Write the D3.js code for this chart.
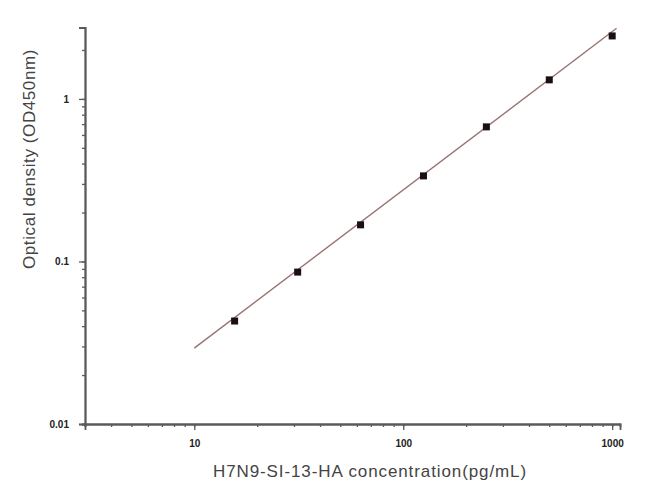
<!DOCTYPE html>
<html><head><meta charset="utf-8">
<script src="https://cdn.jsdelivr.net/npm/d3@7"></script>
<style>body{margin:0;background:#fff}</style>
</head><body>
<svg id="c" width="650" height="494"></svg>
<script>
const concentrations = [15.6, 31.25, 62.5, 125, 250, 500, 1000];
const odValues = [0.043, 0.086, 0.168, 0.336, 0.673, 1.31, 2.44];
const fitX = [10, 1050];
const fitY = [0.0293, 2.72];
const xTickLabels = [10, 100, 1000];
const yTickLabels = [0.01, 0.1, 1];

const svg = d3.select("#c");
const x = d3.scaleLog().domain([3, 1090]).range([85, 620]);
const y = d3.scaleLog().domain([0.01, 2.75]).range([424, 27.5]);
const axisColor = "#5a5a5a";

// minor ticks
const xMinor = [];
for (let d = 1; d <= 1000; d *= 10) for (let m = 1; m < 10; m++) { const v = d * m; if (v >= 3 && v <= 1090) xMinor.push(v); }
const yMinor = [];
for (let d = 0.01; d <= 1.001; d *= 10) for (let m = 1; m < 10; m++) { const v = d * m; if (v >= 0.0099 && v <= 2.75) yMinor.push(v); }

const xa = svg.append("g").attr("transform", `translate(0,${y(0.01)})`)
  .call(d3.axisBottom(x).tickValues(xMinor).tickSize(3).tickFormat(""));
const xaMaj = svg.append("g").attr("transform", `translate(0,${y(0.01)})`)
  .call(d3.axisBottom(x).tickValues(xTickLabels).tickSize(6).tickPadding(10).tickFormat(d3.format("d")));
const ya = svg.append("g").attr("transform", `translate(${x(3)},0)`)
  .call(d3.axisLeft(y).tickValues(yMinor).tickSize(3).tickFormat(""));
const yaMaj = svg.append("g").attr("transform", `translate(${x(3)},0)`)
  .call(d3.axisLeft(y).tickValues(yTickLabels).tickSize(6).tickPadding(10).tickFormat(d => String(d)));

[xa, xaMaj, ya, yaMaj].forEach(g => {
  g.select(".domain").attr("stroke", axisColor).attr("stroke-width", 1.8);
  g.selectAll(".tick line").attr("stroke", axisColor).attr("stroke-width", 1.3);
  g.selectAll(".tick text").attr("fill", "#222").attr("font-family", "Liberation Sans, Arial, sans-serif")
    .attr("font-size", 10).attr("font-weight", "bold");
});

// fit line
svg.append("line")
  .attr("x1", x(fitX[0])).attr("y1", y(fitY[0]))
  .attr("x2", x(fitX[1])).attr("y2", y(fitY[1]))
  .attr("stroke", "#9a7272").attr("stroke-width", 1.4);

// points
svg.selectAll("rect.pt").data(concentrations).enter().append("rect")
  .attr("class", "pt")
  .attr("x", d => x(d) - 3.5).attr("y", (d, i) => y(odValues[i]) - 3.5)
  .attr("width", 7).attr("height", 7).attr("fill", "#1a1012");

// titles
svg.append("text").attr("x", 370).attr("y", 477).attr("text-anchor", "middle")
  .attr("font-family", "Liberation Sans, Arial, sans-serif").attr("font-size", 17)
  .attr("letter-spacing", 0.9).attr("fill", "#444")
  .text("H7N9-SI-13-HA concentration(pg/mL)");
svg.append("text").attr("transform", "translate(35,159) rotate(-90)").attr("text-anchor", "middle")
  .attr("font-family", "Liberation Sans, Arial, sans-serif").attr("font-size", 17)
  .attr("letter-spacing", 0.6).attr("fill", "#444")
  .text("Optical density (OD450nm)");
</script>
</body></html>
